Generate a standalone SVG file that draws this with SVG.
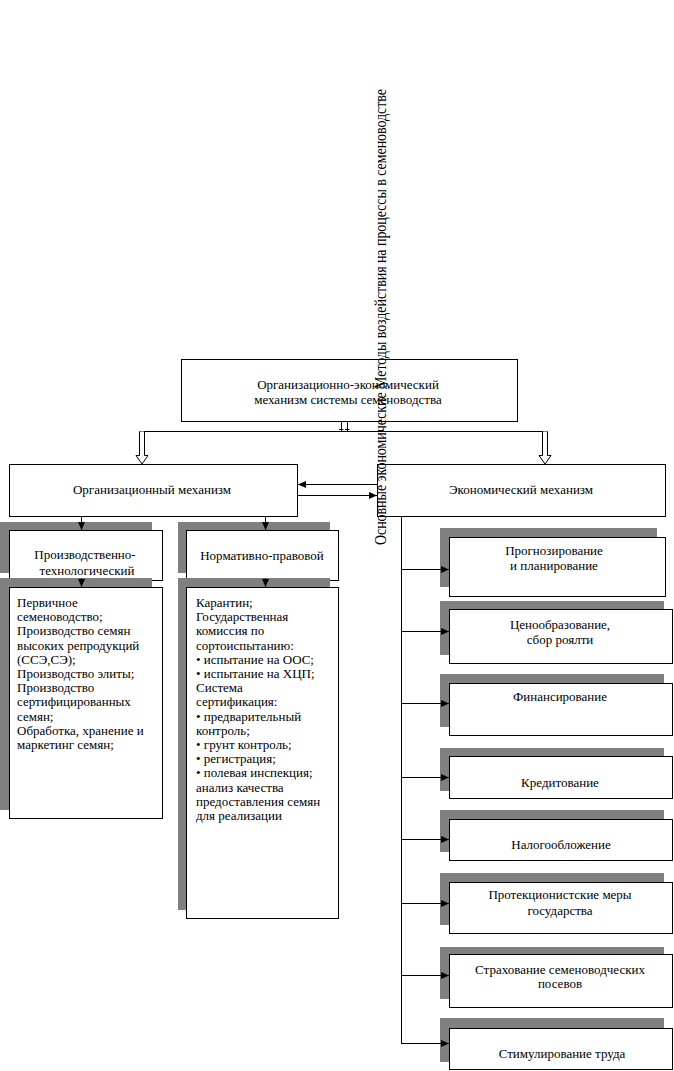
<svg xmlns="http://www.w3.org/2000/svg" width="674" height="1071" viewBox="0 0 674 1071">
<style>
.box{fill:#fff;stroke:#000;stroke-width:1}
.sh{fill:#808080;stroke:none}
.t{font-family:"Liberation Serif","Times New Roman",serif;font-size:13px;fill:#000}
.c{text-anchor:middle}
.ln{stroke:#000;stroke-width:1;fill:none}
.hl{stroke:#000;stroke-width:1;fill:#fff}
</style>
<defs>
<marker id="ah" markerUnits="userSpaceOnUse" markerWidth="8" markerHeight="8" refX="8" refY="4" orient="auto">
<path d="M0,0.5 L8,4 L0,7.5 z" fill="#000"/>
</marker>
</defs>
<rect width="674" height="1071" fill="#fff"/>

<g id="main">
<rect class="box" x="181.5" y="359.5" width="336" height="62"/>
<text class="t c" x="348" y="389">Организационно-экономический</text>
<text class="t c" x="348" y="404">механизм системы семеноводства</text>
</g>

<g id="org">
<rect class="box" x="9.5" y="464.5" width="288" height="52"/>
<text class="t c" x="152" y="494">Организационный механизм</text>
</g>

<g id="econ">
<rect class="box" x="377.5" y="464.5" width="288" height="52"/>
<text class="t c" x="521" y="494">Экономический механизм</text>
</g>

<g id="prod">
<rect class="sh" x="0" y="522" width="152" height="51"/>
<rect class="box" x="9.5" y="530.5" width="153" height="50"/>
<text class="t c" x="85" y="559">Производственно-</text>
<text class="t c" x="87" y="575">технологический</text>
</g>

<g id="prod-list">
<rect class="sh" x="0" y="578" width="152" height="232"/>
<rect class="box" x="9.5" y="587.5" width="153" height="231"/>
<text class="t" x="17" y="607">
<tspan x="17" dy="0">Первичное</tspan>
<tspan x="17" dy="14.2">семеноводство;</tspan>
<tspan x="17" dy="14.2">Производство семян</tspan>
<tspan x="17" dy="14.2">высоких репродукций</tspan>
<tspan x="17" dy="14.2">(ССЭ,СЭ);</tspan>
<tspan x="17" dy="14.2">Производство элиты;</tspan>
<tspan x="17" dy="14.2">Производство</tspan>
<tspan x="17" dy="14.2">сертифицированных</tspan>
<tspan x="17" dy="14.2">семян;</tspan>
<tspan x="17" dy="14.2">Обработка, хранение и</tspan>
<tspan x="17" dy="14.2">маркетинг семян;</tspan>
</text>
</g>

<g id="norm">
<rect class="sh" x="178" y="522" width="152" height="51"/>
<rect class="box" x="186.5" y="530.5" width="152" height="50"/>
<text class="t c" x="262" y="560">Нормативно-правовой</text>
</g>

<g id="norm-list">
<rect class="sh" x="178" y="578" width="152" height="332"/>
<rect class="box" x="186.5" y="587.5" width="152" height="331"/>
<text class="t" x="196" y="607">
<tspan x="196" dy="0">Карантин;</tspan>
<tspan x="196" dy="14.2">Государственная</tspan>
<tspan x="196" dy="14.2">комиссия по</tspan>
<tspan x="196" dy="14.2">сортоиспытанию:</tspan>
<tspan x="196" dy="14.2">• испытание на ООС;</tspan>
<tspan x="196" dy="14.2">• испытание на ХЦП;</tspan>
<tspan x="196" dy="14.2">Система</tspan>
<tspan x="196" dy="14.2">сертификация:</tspan>
<tspan x="196" dy="14.2">• предварительный</tspan>
<tspan x="196" dy="14.2">контроль;</tspan>
<tspan x="196" dy="14.2">• грунт контроль;</tspan>
<tspan x="196" dy="14.2">• регистрация;</tspan>
<tspan x="196" dy="14.2">• полевая инспекция;</tspan>
<tspan x="196" dy="14.2">анализ качества</tspan>
<tspan x="196" dy="14.2">предоставления семян</tspan>
<tspan x="196" dy="14.2">для реализации</tspan>
</text>
</g>

<g id="e1">
<rect class="sh" x="440" y="528" width="217" height="59"/>
<rect class="box" x="449.5" y="537.5" width="216" height="59"/>
<text class="t c" x="554" y="555">Прогнозирование</text>
<text class="t c" x="554" y="570">и планирование</text>
</g>
<g id="e2">
<rect class="sh" x="440" y="601" width="224" height="54"/>
<rect class="box" x="449.5" y="609.5" width="223" height="54"/>
<text class="t c" x="560" y="629">Ценообразование,</text>
<text class="t c" x="560" y="644">сбор роялти</text>
</g>
<g id="e3">
<rect class="sh" x="440" y="674" width="224" height="53"/>
<rect class="box" x="449.5" y="683.5" width="223" height="52"/>
<text class="t c" x="560" y="701">Финансирование</text>
</g>
<g id="e4">
<rect class="sh" x="440" y="748" width="224" height="43"/>
<rect class="box" x="449.5" y="756.5" width="223" height="42"/>
<text class="t c" x="560" y="787">Кредитование</text>
</g>
<g id="e5">
<rect class="sh" x="440" y="810" width="224" height="42"/>
<rect class="box" x="449.5" y="819.5" width="223" height="41"/>
<text class="t c" x="561" y="849">Налогообложение</text>
</g>
<g id="e6">
<rect class="sh" x="440" y="873" width="224" height="52"/>
<rect class="box" x="449.5" y="882.5" width="223" height="51"/>
<text class="t c" x="560" y="899">Протекционистские  меры</text>
<text class="t c" x="560" y="915">государства</text>
</g>
<g id="e7">
<rect class="sh" x="440" y="947" width="224" height="52"/>
<rect class="box" x="449.5" y="954.5" width="223" height="53"/>
<text class="t c" x="560" y="974">Страхование семеноводческих</text>
<text class="t c" x="560" y="988">посевов</text>
</g>
<g id="e8">
<rect class="sh" x="440" y="1018" width="224" height="44"/>
<rect class="box" x="449.5" y="1028.5" width="223" height="41"/>
<text class="t c" x="562" y="1058">Стимулирование труда</text>
</g>

<g id="connectors">
<line class="ln" x1="139.5" y1="431.5" x2="547.5" y2="431.5"/>
<path class="hl" d="M139.5,431.5 V455.5 H136 L142,464 L148,455.5 H144.5 V431.5"/>
<path class="hl" d="M542.5,431.5 V455.5 H539 L545,464 L551,455.5 H547.5 V431.5"/>
<path class="ln" d="M341.5,422 V431 M347.5,422 V431 M339,429.5 H343.5 M345,429.5 H349.5"/>
<line class="ln" x1="377" y1="484.5" x2="298" y2="484.5" marker-end="url(#ah)"/>
<line class="ln" x1="298" y1="495.5" x2="377" y2="495.5" marker-end="url(#ah)"/>
<line class="ln" x1="81.5" y1="517" x2="81.5" y2="530" marker-end="url(#ah)"/>
<line class="ln" x1="265.5" y1="517" x2="265.5" y2="530" marker-end="url(#ah)"/>
<line class="ln" x1="81.5" y1="578" x2="81.5" y2="587" marker-end="url(#ah)"/>
<line class="ln" x1="265.5" y1="578" x2="265.5" y2="587" marker-end="url(#ah)"/>
<line class="ln" x1="401.5" y1="517" x2="401.5" y2="1043.5"/>
<line class="ln" x1="401.5" y1="569.5" x2="449" y2="569.5" marker-end="url(#ah)"/>
<line class="ln" x1="401.5" y1="631.5" x2="449" y2="631.5" marker-end="url(#ah)"/>
<line class="ln" x1="401.5" y1="703.5" x2="449" y2="703.5" marker-end="url(#ah)"/>
<line class="ln" x1="401.5" y1="777.5" x2="449" y2="777.5" marker-end="url(#ah)"/>
<line class="ln" x1="401.5" y1="839.5" x2="449" y2="839.5" marker-end="url(#ah)"/>
<line class="ln" x1="401.5" y1="903.5" x2="449" y2="903.5" marker-end="url(#ah)"/>
<line class="ln" x1="401.5" y1="975.5" x2="449" y2="975.5" marker-end="url(#ah)"/>
<line class="ln" x1="401" y1="1043.5" x2="449" y2="1043.5" marker-end="url(#ah)"/>
</g>

<g id="vertical-label">
<text transform="translate(386,545) rotate(-90) scale(1,1.2)" x="0" y="0" font-family="'Liberation Serif','Times New Roman',serif" font-size="14" textLength="456" lengthAdjust="spacing" fill="#000">Основные экономические Методы воздействия на процессы в семеноводстве</text>
</g>
</svg>
